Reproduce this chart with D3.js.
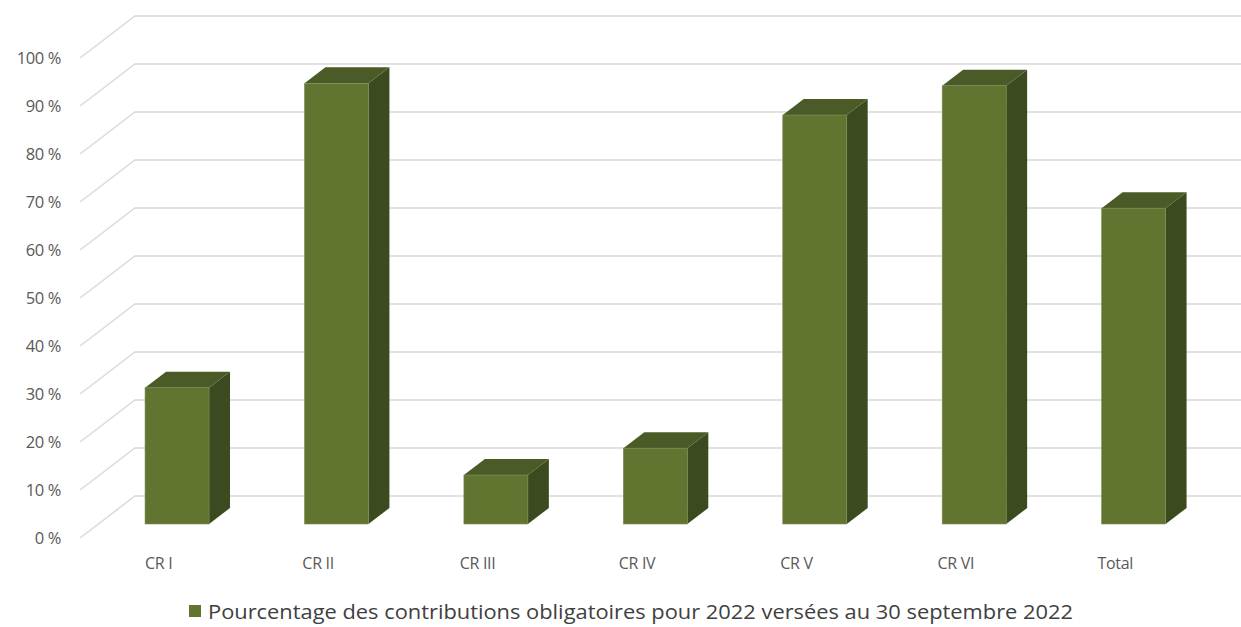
<!DOCTYPE html>
<html><head><meta charset="utf-8">
<script src="https://cdn.jsdelivr.net/npm/d3@7/dist/d3.min.js"></script>
<style>body{margin:0;background:#fff}svg{display:block}</style>
</head><body>
<svg id="c" width="1241" height="627"></svg>
<script>
const categories = ["CR I","CR II","CR III","CR IV","CR V","CR VI","Total"];
const values = [28.4, 91.8, 10.2, 15.8, 85.2, 91.3, 65.8];
const yTicks = [0,10,20,30,40,50,60,70,80,90,100];
const legendLabel = "Pourcentage des contributions obligatoires pour 2022 versées au 30 septembre 2022";

const svg = d3.select("#c");
const font = "'Open Sans', 'Noto Sans', sans-serif";
const depthX = 55, depthY = -42;
const frontY = 538;
const x = d3.scaleBand().domain(categories).range([79, 1195]).paddingInner(0).paddingOuter(0);
const y = d3.scaleLinear().domain([0,100]).range([0, 480]);
const f0 = 14/42, f1 = 30/42;
const barW = 64;

const g = svg.append("g");
yTicks.forEach(t => {
  const y0 = frontY - y(t);
  g.append("path")
    .attr("d", `M80,${y0} L${80+depthX},${y0+depthY} L1241,${y0+depthY}`)
    .attr("fill","none").attr("stroke","#d9d9d9").attr("stroke-width",1.5);
  g.append("text").attr("x",61).attr("y",y0).attr("dy","0.35em")
    .attr("text-anchor","end").attr("font-family",font).attr("font-size",16.5)
    .attr("fill","#595959").attr("letter-spacing",-0.4).text(t + " %");
});

const bars = g.selectAll("g.bar").data(categories.map((c,i)=>({c, v:values[i]}))).join("g").attr("class","bar");
bars.each(function(d){
  const sel = d3.select(this);
  const cx = x(d.c) + x.bandwidth()/2;
  const fx = cx + f0*depthX - barW/2, fyb = frontY + f0*depthY;
  const bx = cx + f1*depthX - barW/2, byb = frontY + f1*depthY;
  const h = y(d.v);
  const ddx = bx - fx, ddy = byb - fyb;
  sel.append("path").attr("d",
    `M${fx+barW},${fyb} L${fx+barW+ddx},${fyb+ddy} L${fx+barW+ddx},${fyb+ddy-h} L${fx+barW},${fyb-h} Z`)
    .attr("fill","#3c4b1f");
  sel.append("path").attr("d",
    `M${fx},${fyb-h} L${fx+ddx},${fyb+ddy-h} L${fx+barW+ddx},${fyb+ddy-h} L${fx+barW},${fyb-h} Z`)
    .attr("fill","#4b5b27");
  sel.append("rect").attr("x",fx).attr("y",fyb-h).attr("width",barW).attr("height",h)
    .attr("fill","#617430").attr("stroke","#7d8c58").attr("stroke-width",0.6);
});

categories.forEach(c => {
  g.append("text").attr("x", x(c)+x.bandwidth()/2).attr("y",563).attr("dy","0.35em")
    .attr("text-anchor","middle").attr("font-family",font).attr("font-size",16)
    .attr("fill","#595959").attr("letter-spacing",-0.3).text(c);
});

g.append("rect").attr("x",189).attr("y",605).attr("width",12).attr("height",12).attr("fill","#617430");
g.append("text").attr("x",208).attr("y",612).attr("dy","0.35em")
  .attr("font-family",font).attr("font-size",20).attr("fill","#404040")
  .attr("textLength",865).attr("lengthAdjust","spacingAndGlyphs")
  .text(legendLabel);
</script>
</body></html>
